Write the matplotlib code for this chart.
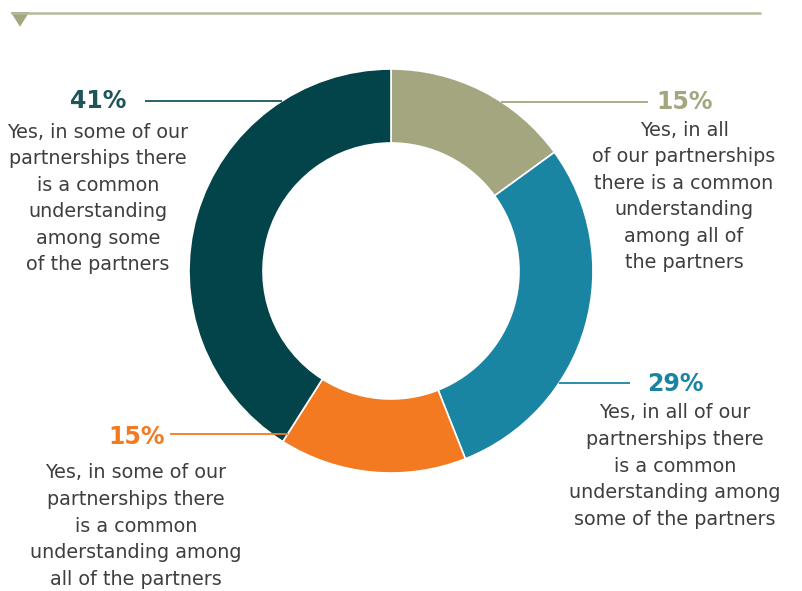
import numpy as np
import matplotlib
matplotlib.use("Agg")
import matplotlib.pyplot as plt
from matplotlib.patches import Polygon

# ---- data ----
shares = [15, 29, 15, 41]
pct_labels = ["15%", "29%", "15%", "41%"]
descriptions = [
    ["Yes, in all", "of our partnerships", "there is a common", "understanding", "among all of", "the partners"],
    ["Yes, in all of our", "partnerships there", "is a common", "understanding among", "some of the partners"],
    ["Yes, in some of our", "partnerships there", "is a common", "understanding among", "all of the partners"],
    ["Yes, in some of our", "partnerships there", "is a common", "understanding", "among some", "of the partners"],
]
colors = ["#a3a67e", "#1a84a3", "#f47a22", "#03434a"]
pct_colors = ["#a3a67e", "#1a84a3", "#f47a22", "#1d5558"]

# ---- layout (pixel coordinates, y measured from top) ----
W, H = 802, 591
cx, cy, R, ring = 391, 271, 202, 74
label_pos = [(685, 102), (675, 384), (137, 437), (98, 101)]
text_x = [684, 675, 136, 98]
text_y0 = [130, 413, 473, 132]
leader_y = [101.5, 383, 434, 101]
leader_outer_x = [648, 630, 170, 145]
line_gap = 26.6

fig = plt.figure(figsize=(W / 100, H / 100), dpi=100)
ax = fig.add_axes([0, 0, 1, 1])

def py(y):
    return H - y

ax.pie(shares, colors=colors, startangle=90, counterclock=False,
       radius=R, center=(cx, py(cy)),
       wedgeprops=dict(width=ring, edgecolor="white", linewidth=1.2))
ax.set_xlim(0, W)
ax.set_ylim(0, H)
ax.set_aspect("equal")
ax.axis("off")

# header rule with triangle
ax.plot([11, 761], [py(12.7), py(12.7)], color="#b6b99a", lw=1.8, solid_capstyle="butt")
ax.add_patch(Polygon([(10.7, py(12)), (29.3, py(12)), (20, py(26.7))],
                     closed=True, color="#a3a67e", lw=0))

# cumulative boundaries (degrees clockwise from top)
bounds = np.concatenate([[0], np.cumsum(shares)]) / sum(shares) * 360

for i in range(len(shares)):
    ly = leader_y[i]
    dy = ly - cy
    # inner end of leader: where horizontal line meets the wedge
    if i == 2:
        th = np.deg2rad(bounds[3])
        r = dy / (-np.cos(th))
        inner_x = cx + r * np.sin(th)
    else:
        dx = np.sqrt(R ** 2 - dy ** 2)
        inner_x = cx + dx if leader_outer_x[i] > cx else cx - dx
    ax.plot([leader_outer_x[i], inner_x], [py(ly), py(ly)], color=pct_colors[i],
            lw=1.3, zorder=5, solid_capstyle="butt")

    lx, lyy = label_pos[i]
    ax.text(lx, py(lyy), pct_labels[i], ha="center", va="center",
            fontsize=17, fontweight="bold", color=pct_colors[i], family="DejaVu Sans")
    for j, line in enumerate(descriptions[i]):
        ax.text(text_x[i], py(text_y0[i] + j * line_gap), line, ha="center", va="center",
                fontsize=13.8, color="#3e3e3e", family="DejaVu Sans")

fig.savefig("out.png", dpi=100, facecolor="white")
